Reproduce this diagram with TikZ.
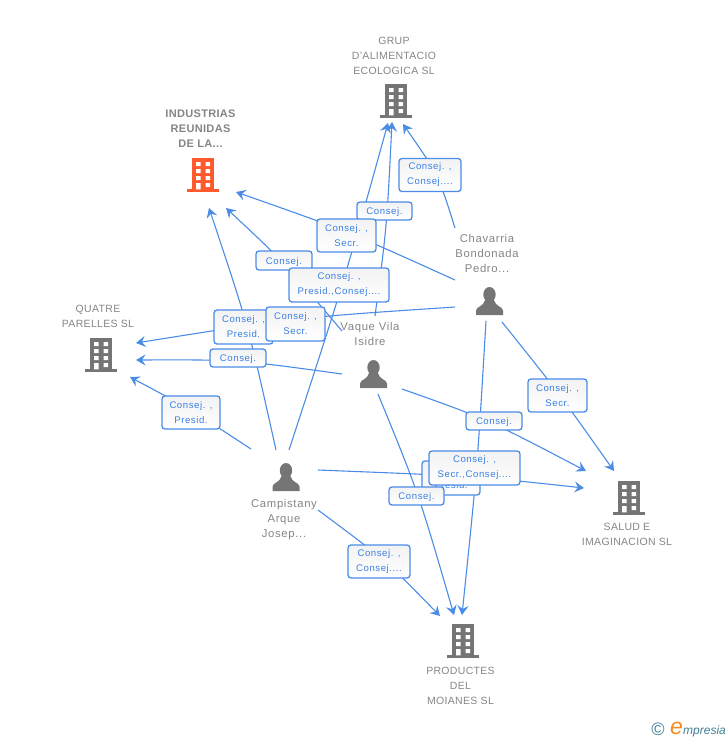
\documentclass[tikz,border=0pt]{standalone}
\usepackage{fontspec}
\setmainfont{Liberation Sans}
\usetikzlibrary{calc,arrows.meta}
\definecolor{edgeblue}{HTML}{4A8CE6}
\definecolor{textblue}{HTML}{3B80E4}
\definecolor{icongray}{HTML}{757575}
\definecolor{namegray}{HTML}{858585}
\definecolor{mainred}{HTML}{FF5A2B}
\definecolor{logoteal}{HTML}{3E7F96}
\definecolor{logoorange}{HTML}{F58A1F}
\newcommand{\bodyfont}{\fontsize{9.6}{15}\selectfont\addfontfeature{LetterSpace=6}}
\newcommand{\namefont}{\fontsize{10.5}{15}\selectfont\addfontfeature{LetterSpace=3}}
\newcommand{\boldnamefont}{\fontsize{11}{15}\selectfont\bfseries\addfontfeature{LetterSpace=3}}
\newcommand{\personfont}{\fontsize{11.3}{15}\selectfont\addfontfeature{LetterSpace=6}}
\tikzset{
  edge/.style={draw=edgeblue,line width=1.1pt,-{Stealth[length=9.5pt,width=11pt,inset=3.5pt]}},
  lblbox/.style={draw=edgeblue,line width=1.3pt,rounded corners=3pt,top color=black!5,bottom color=white,
    text=textblue,font=\bodyfont,align=center,inner sep=0pt,
    execute at begin node={\vrule height 9pt width 0pt\relax}},
  entname/.style={text=namegray,font=\namefont,align=center,inner sep=0pt},
  persname/.style={text=namegray,font=\personfont,align=center,inner sep=0pt},
}
\newcommand{\building}[3]{%
  \begin{scope}[shift={(#1,#2)}]
    \fill[#3] (-11,-34) rectangle (11,-2);
    \fill[#3] (-16,-3) rectangle (16,0);
    \fill[white] (-7,-30) rectangle (-2.5,-26) (2.5,-30) rectangle (7,-26)
      (-7,-23) rectangle (-2.5,-19) (2.5,-23) rectangle (7,-19)
      (-7,-16) rectangle (-2.5,-12) (2.5,-16) rectangle (7,-12)
      (-7,-9) rectangle (-2.5,-2.6) (2.5,-9) rectangle (7,-5);
  \end{scope}}
\newcommand{\person}[2]{%
  \begin{scope}[shift={(#1,#2)}]
    \fill[icongray] (0,7.5) ellipse (6.2 and 7.5);
    \fill[icongray] (-13.5,28) -- (-13.5,23.5) .. controls (-13.3,19.5) and (-5.5,19.5) .. (-4.5,13)
      -- (4.5,13) .. controls (5.5,19.5) and (13.3,19.5) .. (13.5,23.5) -- (13.5,28) -- cycle;
  \end{scope}}
\newcommand{\conn}[3]{\draw[edge] (#1) .. controls ($1.3333*(#2)-0.1667*(#1)-0.1667*(#3)$) .. (#3);}
\begin{document}
\begin{tikzpicture}[x=1pt,y=-1pt]
\useasboundingbox (0,0) rectangle (728,740);
% label box centres
\coordinate (m1) at (430,175);
\coordinate (m2) at (384.5,211);
\coordinate (m3) at (346.5,235.5);
\coordinate (m4) at (284,260.5);
\coordinate (m5) at (339,285);
\coordinate (m6) at (243.5,327);
\coordinate (m7) at (295.5,324);
\coordinate (m8) at (238,358);
\coordinate (m9) at (191,412.5);
\coordinate (m10) at (494,421);
\coordinate (m11) at (557.5,395.5);
\coordinate (m12) at (451,478);
\coordinate (m13) at (474.5,468);
\coordinate (m14) at (416.5,496);
\coordinate (m15) at (379,561.5);
% points that the connectors pass through under the boxes
\coordinate (v1) at (436,175);
\coordinate (v2) at (386,225);
\coordinate (v3) at (346,232);
\coordinate (v4) at (283,263);
\coordinate (v5) at (342,285);
\coordinate (v6) at (247,327);
\coordinate (v7) at (295,319.5);
\coordinate (v8) at (238,361.5);
\coordinate (v9) at (190,410);
\coordinate (v10) at (488,421.5);
\coordinate (v11) at (558,393);
\coordinate (v12) at (470,477);
\coordinate (v13) at (476.5,468);
\coordinate (v14) at (418,496);
\coordinate (v15) at (384,561);
% connector ends
\coordinate (a1) at (455,228);   \coordinate (b1) at (403,124);
\coordinate (a2) at (375,316);   \coordinate (b2) at (392,122);
\coordinate (a3) at (455,280);   \coordinate (b3) at (236,192);
\coordinate (a4) at (342,331);   \coordinate (b4) at (226,208);
\coordinate (a5) at (289,450);   \coordinate (b5) at (388,123);
\coordinate (a6) at (276,450);   \coordinate (b6) at (209,208);
\coordinate (a7) at (455,307);   \coordinate (b7) at (136,343);
\coordinate (a8) at (342,374);   \coordinate (b8) at (136,360);
\coordinate (a9) at (251,449);   \coordinate (b9) at (130,377);
\coordinate (a10) at (402,389);  \coordinate (b10) at (586,471);
\coordinate (a11) at (502,322);  \coordinate (b11) at (614,471);
\coordinate (a12) at (318,470);  \coordinate (b12) at (584,488);
\coordinate (a13) at (486,321);  \coordinate (b13) at (462,615);
\coordinate (a14) at (378,394);  \coordinate (b14) at (454,615);
\coordinate (a15) at (318,510);  \coordinate (b15) at (440,616);
% connectors
\conn{a1}{v1}{b1}
\conn{a2}{v2}{b2}
\conn{a3}{v3}{b3}
\conn{a4}{v4}{b4}
\conn{a5}{v5}{b5}
\conn{a6}{v6}{b6}
\conn{a7}{v7}{b7}
\conn{a8}{v8}{b8}
\conn{a9}{v9}{b9}
\conn{a10}{v10}{b10}
\conn{a11}{v11}{b11}
\conn{a12}{v12}{b12}
\conn{a13}{v13}{b13}
\conn{a14}{v14}{b14}
\conn{a15}{v15}{b15}
% label boxes
\node[lblbox,minimum width=62pt,minimum height=33pt] (l1) at (m1) {Consej. ,\\Consej....};
\node[lblbox,minimum width=55pt,minimum height=18pt] (l2) at (m2) {Consej.};
\node[lblbox,minimum width=59pt,minimum height=33pt] (l3) at (m3) {Consej. ,\\Secr.};
\node[lblbox,minimum width=56pt,minimum height=19pt] (l4) at (m4) {Consej.};
\node[lblbox,minimum width=100pt,minimum height=34pt] (l5) at (m5) {Consej. ,\\Presid.,Consej....};
\node[lblbox,minimum width=59pt,minimum height=34pt] (l6) at (m6) {Consej. ,\\Presid.};
\node[lblbox,minimum width=59pt,minimum height=34pt] (l7) at (m7) {Consej. ,\\Secr.};
\node[lblbox,minimum width=56pt,minimum height=18pt] (l8) at (m8) {Consej.};
\node[lblbox,minimum width=58pt,minimum height=33pt] (l9) at (m9) {Consej. ,\\Presid.};
\node[lblbox,minimum width=56pt,minimum height=18pt] (l10) at (m10) {Consej.};
\node[lblbox,minimum width=59pt,minimum height=33pt] (l11) at (m11) {Consej. ,\\Secr.};
\node[lblbox,minimum width=58pt,minimum height=34pt] (l12) at (m12) {Consej. ,\\Presid.};
\node[lblbox,minimum width=91pt,minimum height=34pt] (l13) at (m13) {Consej. ,\\Secr.,Consej....};
\node[lblbox,minimum width=55pt,minimum height=18pt] (l14) at (m14) {Consej.};
\node[lblbox,minimum width=62pt,minimum height=33pt] (l15) at (m15) {Consej. ,\\Consej....};
% companies
\building{396}{118}{icongray}
\node[entname] (grup) at (394,56) {GRUP\\D'ALIMENTACIO\\ECOLOGICA SL};
\building{203}{192}{mainred}
\node[entname,font=\boldnamefont] (ind) at (200.5,128.5) {INDUSTRIAS\\REUNIDAS\\DE LA...};
\building{101}{372}{icongray}
\node[entname] (quatre) at (98,316.5) {QUATRE\\PARELLES SL};
\building{629}{515}{icongray}
\node[entname] (salud) at (627,534.5) {SALUD E\\IMAGINACION SL};
\building{463}{658}{icongray}
\node[entname] (prod) at (460.5,686) {PRODUCTES\\DEL\\MOIANES SL};
% people
\person{489.5}{287}
\node[persname] (chav) at (487,253) {Chavarria\\Bondonada\\Pedro...};
\person{373.5}{360}
\node[persname] (vaque) at (370,333.5) {Vaque Vila\\Isidre};
\person{286}{463}
\node[persname] (camp) at (284,520) {Campistany\\Arque\\Josep...};
% logo
\node[text=logoteal,font=\fontsize{18}{18}\selectfont,inner sep=0pt] (copy) at (658,729) {©};
\node[text=logoorange,font=\fontsize{23}{23}\selectfont\itshape,inner sep=0pt,anchor=base west] (loge) at (670,734) {e};
\node[text=logoteal,font=\fontsize{12}{12}\selectfont\itshape,inner sep=0pt,anchor=base west] (logt) at (683,734) {mpresia};
\end{tikzpicture}
\end{document}
